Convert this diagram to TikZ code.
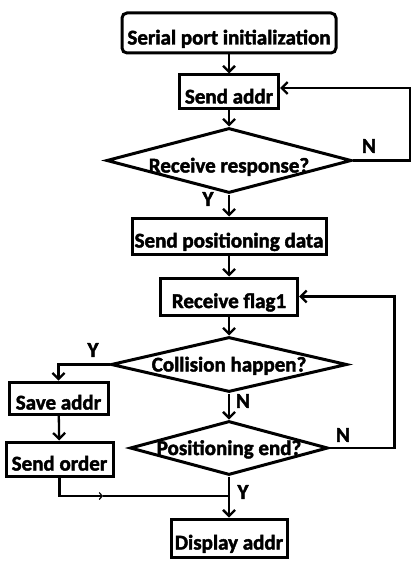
\documentclass[tikz,border=0pt]{standalone}
\usepackage{fontspec}
\setmainfont{Carlito}[BoldFeatures={FakeBold=2}]
\usetikzlibrary{shapes.geometric,positioning,arrows.meta}

\begin{document}
\begin{tikzpicture}[x=1pt, y=-1pt,
  every node/.style={font=\bfseries\fontsize{21}{23}\selectfont},
  box/.style={draw, shape=rectangle, line width=3pt, inner sep=0pt, text height=23pt, text depth=0pt},
  cond/.style={draw, shape=diamond, line width=3pt, inner sep=0pt, text height=14pt, text depth=0pt},
  flow/.style={line width=2.3pt, -{Straight Barb[length=6pt, width=12pt]}},
  link/.style={line width=2.3pt}]
\useasboundingbox (0,0) rectangle (417,564);
\node[box, rounded corners=5pt, minimum width=214pt, minimum height=40pt] (1) at (229,33) {Serial port initialization};
\node[box, minimum width=99pt, minimum height=34pt] (2) at (229,92) {Send addr};
\node[cond, minimum width=245pt, minimum height=65pt, text height=24pt] (3) at (229,160.5) {\makebox[0pt]{Receive response?}};
\node[box, minimum width=194pt, minimum height=36pt] (4) at (229,236) {Send positioning data};
\node[box, minimum width=137pt, minimum height=37pt] (5) at (229,296.5) {Receive flag1};
\node[cond, minimum width=236pt, minimum height=55pt] (6) at (229,364.5) {\makebox[0pt]{Collision happen?}};
\node[cond, minimum width=198pt, minimum height=54pt] (7) at (229,448) {\makebox[0pt]{Positioning end?}};
\node[box, minimum width=99pt, minimum height=32pt] (8) at (58.5,398) {Save addr};
\node[box, minimum width=107pt, minimum height=34pt] (9) at (59.5,459) {Send order};
\node[box, minimum width=116pt, minimum height=38pt] (10) at (229,538) {Display addr};
\coordinate (11) at (103,496);
\coordinate (12) at (229,496);

\draw[flow] (1) -- (2);
\draw[flow] (2) -- (3);
\draw[flow] (3) -- (4);
\draw[flow] (4) -- (5);
\draw[flow] (5) -- (6);
\draw[flow] (6) -- (7);
\draw[flow] (7) -- (10);
\draw[flow] (3.east) -- ++(57,0) |- ([yshift=4pt]2.east);
\draw[flow] (7.east) -- ++(65,0) |- (5.east);
\draw[flow] (6.west) -| (8.north);
\draw[flow] (8) -- (9);
\draw[link, -{Straight Barb[length=3pt, width=7pt, line width=1.2pt]}] (9.south) |- (11);
\draw[link] (11) -- (12);

\node (13) at (369,146) {N};
\node (14) at (208,199) {Y};
\node (15) at (93,350) {Y};
\node (16) at (243,401) {N};
\node (17) at (343,435) {N};
\node (18) at (243,492) {Y};
\end{tikzpicture}
\end{document}
